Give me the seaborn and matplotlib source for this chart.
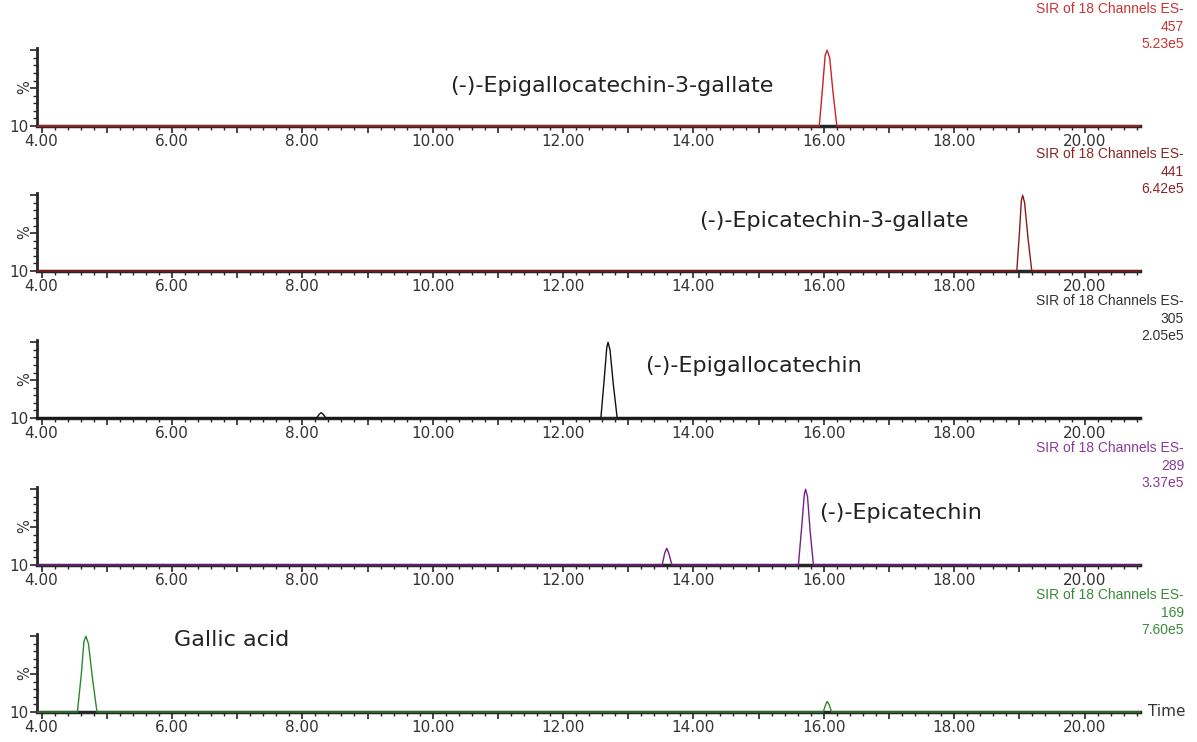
import numpy as np
import pandas as pd
import seaborn as sns
import matplotlib.pyplot as plt
from matplotlib.ticker import MultipleLocator, FuncFormatter

# 5 SIR channel traces (time in min, relative intensity %)
t_457 = [3.93, 15.93, 15.98, 16.02, 16.05, 16.09, 16.14, 16.20, 20.85]
i_457 = [0, 0, 50, 93, 100, 90, 45, 0, 0]

t_441 = [3.93, 18.96, 19.00, 19.03, 19.05, 19.08, 19.13, 19.19, 20.85]
i_441 = [0, 0, 50, 93, 100, 90, 45, 0, 0]

t_305 = [3.93, 8.22, 8.26, 8.29, 8.32, 8.36, 12.58, 12.63, 12.67, 12.69, 12.72, 12.77, 12.83, 20.85]
i_305 = [0, 0, 5, 7, 5, 0, 0, 50, 93, 100, 90, 45, 0, 0]

t_289 = [3.93, 13.52, 13.56, 13.59, 13.62, 13.67, 15.61, 15.66, 15.70, 15.72, 15.75, 15.79, 15.84, 20.85]
i_289 = [0, 0, 16, 22, 16, 0, 0, 50, 93, 100, 90, 45, 0, 0]

t_169 = [3.93, 4.55, 4.61, 4.65, 4.68, 4.72, 4.78, 4.85, 15.99, 16.03, 16.05, 16.08, 16.12, 20.85]
i_169 = [0, 0, 50, 93, 100, 90, 45, 0, 0, 10, 14, 10, 0, 0]

masses = ["457", "441", "305", "289", "169"]
max_int = ["5.23e5", "6.42e5", "2.05e5", "3.37e5", "7.60e5"]
compounds = ["(-)-Epigallocatechin-3-gallate", "(-)-Epicatechin-3-gallate",
             "(-)-Epigallocatechin", "(-)-Epicatechin", "Gallic acid"]
label_pos = [(12.75, 53), (16.15, 66), (14.92, 69), (17.18, 69), (6.92, 95)]
line_cols = ["#cc2222", "#8b1a1a", "#111111", "#7a1f8a", "#2a8a2a"]
text_cols = ["#cc3333", "#8b2525", "#333333", "#8a3a9a", "#3a8a3a"]
traces = [(t_457, i_457), (t_441, i_441), (t_305, i_305), (t_289, i_289), (t_169, i_169)]

sns.set_style("ticks")
plt.rcParams['font.family'] = ['DejaVu Sans']

fig = plt.figure(figsize=(11.97, 7.42), dpi=100)
W, H = 1197, 742
base_px = [126, 271, 418, 565, 712]

for k in range(5):
    b = base_px[k]
    ax = fig.add_axes([37 / W, 1 - b / H, (1140 - 37) / W, 78 / H])
    df = pd.DataFrame({"time": traces[k][0], "pct": traces[k][1]})
    sns.lineplot(data=df, x="time", y="pct", ax=ax, color=line_cols[k],
                 lw=1.0, estimator=None, sort=False, clip_on=False, zorder=5)
    ax.set_xlim(3.93, 20.85)
    ax.set_ylim(0, 103)
    for s in ["top", "right"]:
        ax.spines[s].set_visible(False)
    ax.spines["bottom"].set_linewidth(2.5)
    ax.spines["left"].set_linewidth(2)
    ax.xaxis.set_major_locator(MultipleLocator(1))
    ax.xaxis.set_minor_locator(MultipleLocator(0.2))
    ax.xaxis.set_major_formatter(FuncFormatter(lambda v, p: "%.2f" % v if round(v) % 2 == 0 else ""))
    ax.yaxis.set_major_locator(MultipleLocator(50))
    ax.yaxis.set_minor_locator(MultipleLocator(10))
    ax.yaxis.set_major_formatter(FuncFormatter(lambda v, p: "10" if v == 0 else ""))
    ax.tick_params(axis="x", which="major", length=5, width=1.2, labelsize=11,
                   labelcolor="#333333", pad=1)
    ax.tick_params(axis="x", which="minor", length=3, width=1)
    ax.tick_params(axis="y", which="major", length=5, width=1.2, labelsize=11,
                   labelcolor="#333333", pad=1)
    ax.tick_params(axis="y", which="minor", length=3, width=1)
    ax.set_xlabel("")
    ax.set_ylabel("")
    ax.patch.set_alpha(0)

    fig.text(25 / W, 1 - (b - 39) / H, "%", rotation=90, fontsize=10.5,
             color="#333333", ha="center", va="center")

    lx, ly = label_pos[k]
    ax.text(lx, ly, compounds[k], fontsize=16, color="#222222", ha="center", va="center")

    head = ["SIR of 18 Channels ES-", masses[k], max_int[k]]
    for j, off in enumerate([117, 99, 82]):
        fig.text(1184 / W, 1 - (b - off) / H, head[j], ha="right", va="center",
                 fontsize=10, color=text_cols[k], family="Liberation Sans")

fig.text(1148 / W, 1 - 712 / H, "Time", ha="left", va="center", fontsize=11, color="#333333")

fig.savefig("out.png", dpi=100)
